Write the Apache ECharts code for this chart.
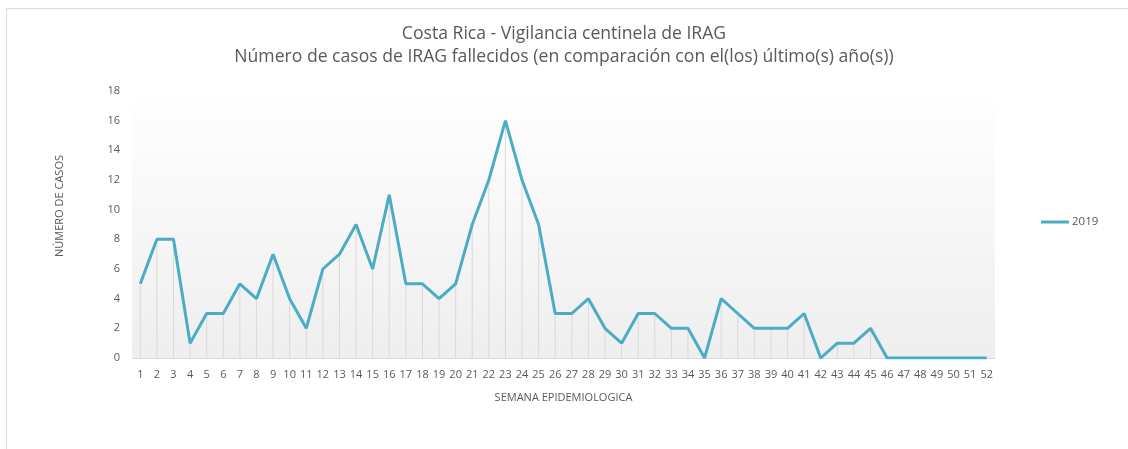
<!DOCTYPE html>
<html><head><meta charset="utf-8">
<script src="https://cdn.jsdelivr.net/npm/echarts@6/dist/echarts.min.js"></script>
<style>html,body{margin:0;padding:0;background:#fff}#c{width:1128px;height:449px}</style>
</head><body><div id="c"></div>
<script>
const titleLine1 = 'Costa Rica - Vigilancia centinela de IRAG';
const titleLine2 = 'Número de casos de IRAG fallecidos (en comparación con el(los) último(s) año(s))';
const weeks = Array.from({length: 52}, (_, i) => String(i + 1));
const seriesName = '2019';
const values2019 = [5,8,8,1,3,3,5,4,7,4,2,6,7,9,6,11,5,5,4,5,9,12,16,12,9,3,3,4,2,1,3,3,2,2,0,4,3,2,2,2,3,0,1,1,2,0,0,0,0,0,0,0];
const yMin = 0, yMax = 18, yInterval = 2;
const xAxisName = 'SEMANA EPIDEMIOLOGICA';
const yAxisName = 'NÚMERO DE CASOS';

const font = 'Open Sans, Calibri, Liberation Sans, sans-serif';
const chart = echarts.init(document.getElementById('c'));
chart.setOption({
  animation: false,
  backgroundColor: '#fff',
  title: {
    text: titleLine1 + '\n' + titleLine2,
    left: 'center', top: 17,
    textStyle: {color: '#595959', fontSize: 17.6, fontWeight: 'normal', fontFamily: font, lineHeight: 23}
  },
  legend: {
    data: [seriesName],
    left: 1036, top: 211,
    itemWidth: 28, itemHeight: 3, itemGap: 4,
    icon: 'rect',
    textStyle: {color: '#595959', fontSize: 11.5, fontFamily: font, padding: [0,0,0,-2]}
  },
  graphic: [
    {type: 'rect', shape: {x: 6.5, y: 8.5, width: 1200, height: 500}, style: {fill: 'none', stroke: '#d9d9d9', lineWidth: 1}, silent: true, z: -10},
    {type: 'text', x: 60, y: 206, rotation: Math.PI / 2, style: {text: yAxisName, fill: '#595959', fontSize: 11, fontFamily: font, align: 'center', verticalAlign: 'middle'}}
  ],
  grid: {
    left: 132, right: 133, top: 91, bottom: 91,
    show: true, borderWidth: 0,
    backgroundColor: new echarts.graphic.LinearGradient(0, 0, 0, 1, [
      {offset: 0, color: '#ffffff'}, {offset: 1, color: '#eeeeee'}
    ])
  },
  xAxis: {
    type: 'category', data: weeks, boundaryGap: true,
    name: xAxisName, nameLocation: 'middle', nameGap: 34,
    nameTextStyle: {color: '#595959', fontSize: 11, fontFamily: font},
    axisLine: {lineStyle: {color: '#d9d9d9'}},
    axisTick: {show: false},
    axisLabel: {color: '#595959', fontSize: 11, fontFamily: font, interval: 0, margin: 11}
  },
  yAxis: {
    type: 'value', min: yMin, max: yMax, interval: yInterval,
    axisLine: {show: false}, axisTick: {show: false},
    splitLine: {show: false},
    axisLabel: {color: '#595959', fontSize: 11, fontFamily: font, margin: 12}
  },
  series: [
    {
      name: 'drop', type: 'bar', data: values2019, barWidth: 1, silent: true,
      itemStyle: {color: '#d9d9d9'}, z: 1
    },
    {
      name: seriesName, type: 'line', data: values2019, symbol: 'none',
      lineStyle: {color: '#4bacc6', width: 3}, itemStyle: {color: '#4bacc6'}, z: 3
    }
  ]
});
</script></body></html>
